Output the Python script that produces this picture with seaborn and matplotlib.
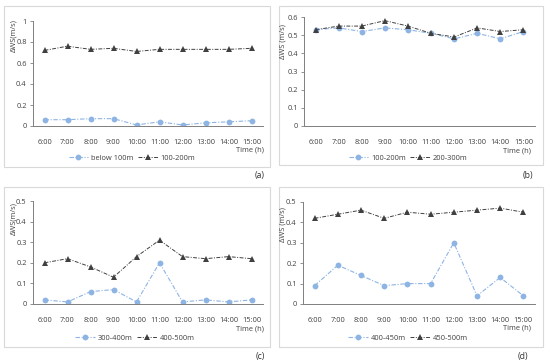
import matplotlib
matplotlib.use("Agg")
import matplotlib.pyplot as plt
import seaborn as sns
import pandas as pd
from matplotlib.patches import Rectangle
from matplotlib.lines import Line2D

times = ["6:00", "7:00", "8:00", "9:00", "10:00", "11:00", "12:00", "13:00", "14:00", "15:00"]

a_low_name, a_high_name = "below 100m", "100-200m"
a_low = [0.06, 0.06, 0.07, 0.07, 0.01, 0.04, 0.01, 0.03, 0.04, 0.05]
a_high = [0.72, 0.76, 0.73, 0.74, 0.71, 0.73, 0.73, 0.73, 0.73, 0.74]

b_low_name, b_high_name = "100-200m", "200-300m"
b_low = [0.53, 0.54, 0.52, 0.54, 0.53, 0.51, 0.48, 0.51, 0.48, 0.52]
b_high = [0.53, 0.55, 0.55, 0.58, 0.55, 0.51, 0.49, 0.54, 0.52, 0.53]

c_low_name, c_high_name = "300-400m", "400-500m"
c_low = [0.02, 0.01, 0.06, 0.07, 0.01, 0.20, 0.01, 0.02, 0.01, 0.02]
c_high = [0.20, 0.22, 0.18, 0.13, 0.23, 0.31, 0.23, 0.22, 0.23, 0.22]

d_low_name, d_high_name = "400-450m", "450-500m"
d_low = [0.09, 0.19, 0.14, 0.09, 0.10, 0.10, 0.30, 0.04, 0.13, 0.04]
d_high = [0.42, 0.44, 0.46, 0.42, 0.45, 0.44, 0.45, 0.46, 0.47, 0.45]

a_yticks = [0, 0.2, 0.4, 0.6, 0.8, 1]
a_yticklabels = ["0", "0.2", "0.4", "0.6", "0.8", "1"]
b_yticks = [0, 0.1, 0.2, 0.3, 0.4, 0.5, 0.6]
b_yticklabels = ["0", "0.1", "0.2", "0.3", "0.4", "0.5", "0.6"]
cd_yticks = [0, 0.1, 0.2, 0.3, 0.4, 0.5]
cd_yticklabels = ["0", "0.1", "0.2", "0.3", "0.4", "0.5"]

sns.set_theme(style="white")
plt.rcParams["font.family"] = ["Open Sans", "DejaVu Sans"]

W, H = 550, 364
fig = plt.figure(figsize=(W / 100, H / 100), dpi=100)
fig.patch.set_facecolor("white")

BLUE = "#8eb4e3"
DARK = "#404040"
TXT = "#404040"
FS = 5.4
MS = 4.2
LS = (0, (4, 1.5, 1, 1.5))


def px(x0, y0, x1, y1):
    return [x0 / W, 1 - y1 / H, (x1 - x0) / W, (y1 - y0) / H]


def panel(box, axbox, low, high, low_name, high_name, yticks, yticklabels,
          ylabel, ylab_pos, time_pos, leg_pos, tag, tag_pos):
    bx0, by0, bx1, by1 = box
    fig.patches.append(Rectangle((bx0 / W, 1 - by1 / H), (bx1 - bx0) / W, (by1 - by0) / H,
                                 transform=fig.transFigure, fill=False,
                                 edgecolor="#d9d9d9", linewidth=0.8))
    ax = fig.add_axes(px(*axbox))
    df = pd.DataFrame({"time": times, "low": low, "high": high})
    sns.lineplot(data=df, x="time", y="low", ax=ax, color=BLUE, marker="o",
                 markersize=MS, markeredgewidth=0, linewidth=0.8, linestyle=LS, sort=False)
    sns.lineplot(data=df, x="time", y="high", ax=ax, color=DARK, marker="^",
                 markersize=MS, markeredgewidth=0, linewidth=0.7, linestyle=LS, sort=False)
    ax.set_xlim(-0.5, len(times) - 0.5)
    ax.set_ylim(yticks[0], yticks[-1])
    ax.set_yticks(yticks)
    ax.set_yticklabels(yticklabels)
    ax.set_xlabel("")
    ax.set_ylabel("")
    for s in ["top", "right"]:
        ax.spines[s].set_visible(False)
    for s in ["left", "bottom"]:
        ax.spines[s].set_color("#7f7f7f")
        ax.spines[s].set_linewidth(0.7)
    ax.tick_params(axis="y", which="major", left=True, length=2.5, width=0.6,
                   color="#7f7f7f", labelsize=FS, labelcolor=TXT, pad=2)
    ax.tick_params(axis="x", which="major", bottom=False, labelsize=FS, labelcolor=TXT, pad=3.5)
    ax.set_facecolor("none")

    fig.text(ylab_pos[0] / W, 1 - ylab_pos[1] / H, ylabel, rotation=90, ha="center",
             va="center", fontsize=FS, color=TXT)
    fig.text(time_pos[0] / W, 1 - time_pos[1] / H, "Time (h)", ha="right", va="center",
             fontsize=FS, color=TXT)
    handles = [
        Line2D([], [], color=BLUE, marker="o", markersize=MS, markeredgewidth=0,
               linewidth=0.8, linestyle=LS),
        Line2D([], [], color=DARK, marker="^", markersize=MS, markeredgewidth=0,
               linewidth=0.7, linestyle=LS),
    ]
    fig.legend(handles, [low_name, high_name], loc="center",
               bbox_to_anchor=(leg_pos[0] / W, 1 - leg_pos[1] / H), ncol=2, frameon=False,
               fontsize=FS, labelcolor=TXT, handlelength=2.6, handletextpad=0.4,
               columnspacing=0.6, borderpad=0, borderaxespad=0)
    fig.text(tag_pos[0] / W, 1 - tag_pos[1] / H, tag, ha="center", va="center",
             fontsize=6.2, color="#303030")
    return ax


panel((4, 6, 270, 167), (33, 21, 263, 126), a_low, a_high, a_low_name, a_high_name,
      a_yticks, a_yticklabels, "ΔWS(m/s)", (14, 36), (264, 150), (132, 158), "(a)", (260, 175))
panel((279, 6, 543, 165), (304, 17, 535, 126), b_low, b_high, b_low_name, b_high_name,
      b_yticks, b_yticklabels, "ΔWS (m/s)", (283, 42), (531, 151), (408, 158), "(b)", (528, 175))
panel((4, 187, 270, 347), (33, 201, 263, 304), c_low, c_high, c_low_name, c_high_name,
      cd_yticks, cd_yticklabels, "ΔWS(m/s)", (14, 219), (264, 329), (135, 338), "(c)", (260, 356))
panel((279, 187, 543, 347), (303, 202, 535, 304), d_low, d_high, d_low_name, d_high_name,
      cd_yticks, cd_yticklabels, "ΔWS (m/s)", (283, 225), (531, 328), (408, 338), "(d)", (523, 356))

fig.savefig("out.png", dpi=100, facecolor="white")
